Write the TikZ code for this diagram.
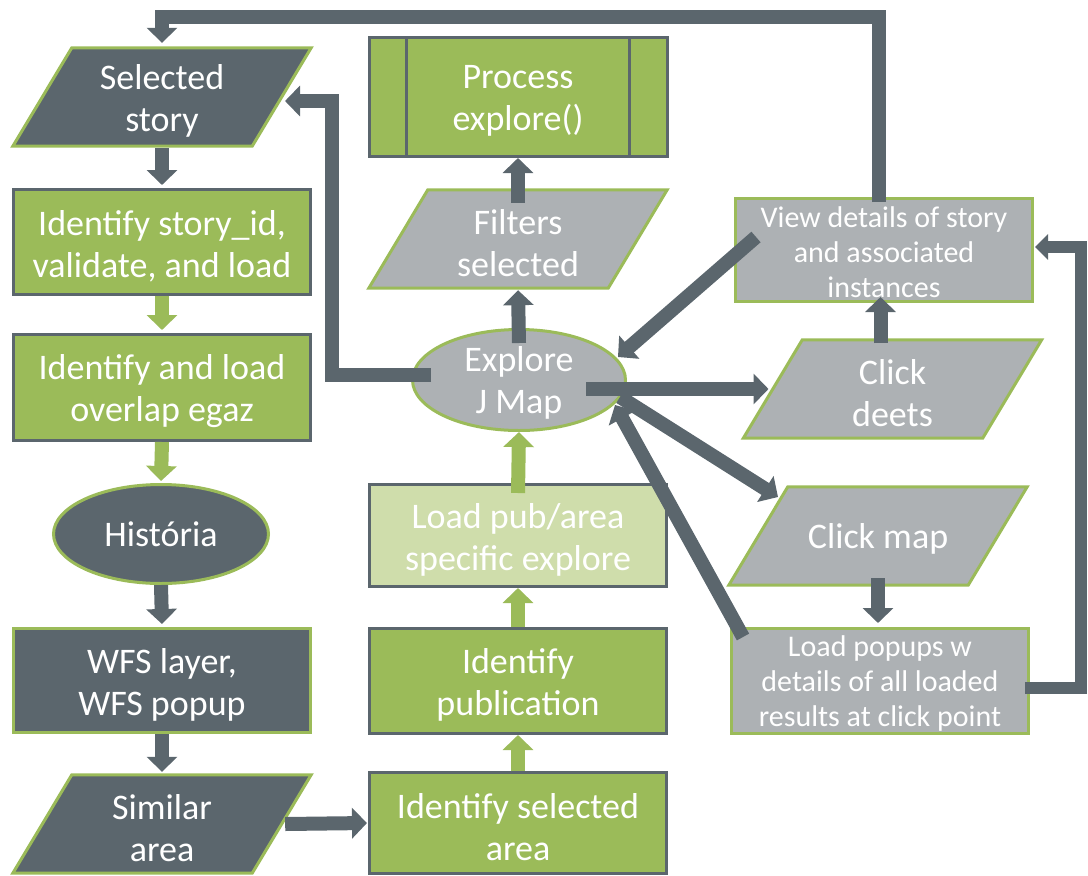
\documentclass[tikz,border=0pt]{standalone}
\usepackage{fontspec}
\setmainfont{Carlito}
\usetikzlibrary{arrows.meta,shapes.geometric,calc}
\pgfdeclarelayer{background}
\pgfsetlayers{background,main}

\definecolor{cslate}{HTML}{5B666D}
\definecolor{colive}{HTML}{9BBB59}
\definecolor{cmist}{HTML}{ADB1B4}
\definecolor{cpale}{HTML}{CFDDAB}

\tikzset{
  bigtext/.style={font=\fontsize{36pt}{42pt}\selectfont},
  smalltext/.style={font=\fontsize{30pt}{35pt}\selectfont},
  words/.style={align=center, text=white, inner sep=0pt},
  box/.style={rectangle, minimum width=297pt, minimum height=105pt, line width=3pt, inner sep=0pt},
  greenbox/.style={box, fill=colive, draw=cslate},
  darkbox/.style={box, fill=cslate, draw=colive},
  greybox/.style={box, fill=cmist, draw=colive},
  iobox/.style={rectangle, minimum width=302pt, minimum height=102pt, inner sep=0pt},
  oval/.style={ellipse, line width=3pt, draw=colive, inner sep=0pt},
  flow/.style={cslate, line width=14pt, -{Triangle[width=30pt,length=15pt]}},
  gflow/.style={flow, colive},
  thinflow/.style={cslate, line width=12pt, -{Triangle[width=25pt,length=13pt]}},
}

% slanted data shape drawn behind a node
\newcommand\ioshape[2]{%
  \begin{pgfonlayer}{background}
    \draw[line width=3pt, draw=colive, fill=#2]
      ([shift={(2pt,2pt)}]#1.south west) -- ([shift={(61pt,-2pt)}]#1.north west)
      -- ([shift={(-2pt,-2pt)}]#1.north east) -- ([shift={(-61pt,2pt)}]#1.south east) -- cycle;
  \end{pgfonlayer}}
% text of a shape: #1 shape name, #2 font style, #3 vertical offset, #4 lines
\newcommand\shapetext[4]{\node[words, #2] (#1-t) at ([yshift=#3]#1.center) {#4};}

\begin{document}
\begin{tikzpicture}[x=1pt,y=-1pt]
\useasboundingbox (0,0) rectangle (1088,876);

% left column
\node[iobox] (sel) at (162,97) {};
\ioshape{sel}{cslate}
\shapetext{sel}{bigtext}{-4pt}{Selected\\story}
\node[greenbox] (idst) at (162,242) {};
\shapetext{idst}{bigtext}{-4pt}{Identify story\_id,\\validate, and load}
\node[greenbox, minimum height=106pt] (idov) at (162,387.5) {};
\shapetext{idov}{bigtext}{-4pt}{Identify and load\\overlap egaz}
\node[oval, fill=cslate, minimum width=215pt, minimum height=99pt] (hist) at (161,534) {};
\shapetext{hist}{bigtext}{0pt}{História}
\node[darkbox, minimum height=104pt] (wfs) at (162,680.5) {};
\shapetext{wfs}{bigtext}{-4pt}{WFS layer,\\WFS popup}
\node[iobox] (sim) at (162,824) {};
\ioshape{sim}{cslate}
\shapetext{sim}{bigtext}{-4pt}{Similar\\area}

% middle column
\node[greenbox, minimum width=298pt, minimum height=119pt] (proc) at (518,97) {};
\draw[line width=3pt, cslate] ([xshift=39pt]proc.north west) -- ([xshift=39pt]proc.south west);
\draw[line width=3pt, cslate] ([xshift=-39pt]proc.north east) -- ([xshift=-39pt]proc.south east);
\shapetext{proc}{bigtext}{-4pt}{Process\\explore()}
\node[iobox] (filt) at (518,239) {};
\ioshape{filt}{cmist}
\shapetext{filt}{bigtext}{-4pt}{Filters\\selected}
\node[oval, fill=cmist, minimum width=213pt, minimum height=101pt] (expl) at (519,380) {};
\shapetext{expl}{bigtext}{-3pt}{Explore\\J Map}
\node[box, fill=cpale, draw=cslate, minimum height=102pt] (loadpub) at (518,535.5) {};
\shapetext{loadpub}{bigtext}{-4pt}{Load pub/area\\specific explore}
\node[greenbox] (idpub) at (518,681) {};
\shapetext{idpub}{bigtext}{-4pt}{Identify\\publication}
\node[greenbox, minimum height=101pt] (idarea) at (518,823) {};
\shapetext{idarea}{bigtext}{-4pt}{Identify selected\\area}

% right column
\node[greybox, minimum height=103pt] (view) at (884,250) {};
\shapetext{view}{smalltext}{-2pt}{View details of story\\and associated\\instances}
\node[iobox] (deets) at (892.5,389) {};
\ioshape{deets}{cmist}
\shapetext{deets}{bigtext}{-4pt}{Click\\deets}
\node[iobox] (cmap) at (878,536) {};
\ioshape{cmap}{cmist}
\shapetext{cmap}{bigtext}{-3pt}{Click map}
\node[greybox] (popups) at (880,681) {};
\shapetext{popups}{smalltext}{-2pt}{Load popups w\\details of all loaded\\results at click point}

% left column flow
\draw[flow] (sel.south) -- ([yshift=3pt]idst.north);
\draw[gflow] (idst.south) -- ([yshift=3pt]idov.north);
\draw[gflow] (idov.south) -- ([yshift=2pt]hist.north);
\draw[flow] (hist.south) -- ([yshift=3pt]wfs.north);
\draw[flow] (wfs.south) -- ([yshift=1pt]sim.north);
\draw[flow] ([xshift=-28pt]sim.east) -- ([xshift=-1pt]idarea.west);

% middle column flow
\draw[gflow] (idarea.north) -- (idpub.south);
\draw[gflow] (idpub.north) -- (loadpub.south);
\draw[gflow] ([yshift=-10pt]loadpub.north) -- (expl.south);
\draw[flow] ([yshift=-15pt]expl.north) -- (filt.south);
\draw[flow] ([yshift=-15pt]filt.north) -- (proc.south);

% out of the map
\draw[flow] ([shift={(67pt,-9pt)}]expl.center) -- ([xshift=-124pt]deets.center);
\draw[flow] ([shift={(101pt,-17pt)}]expl.center) -- ([shift={(-100pt,39pt)}]cmap.center);
\draw[flow] ([shift={(-128pt,13pt)}]view.center) -- ([shift={(99pt,23pt)}]expl.center);
\draw[flow] ([shift={(-137pt,44pt)}]popups.center) -- ([shift={(96pt,-25pt)}]expl.center);

% right column flow
\coordinate (dv) at ([shift={(-12pt,46pt)}]deets.center);
\draw[flow, shorten >=-6pt] (dv) -- (dv |- view.south);
\coordinate (mp) at ([yshift=-42pt]cmap.center);
\draw[flow, shorten >=4pt] (mp) -- (mp |- popups.north);

% loops back
\draw[flow] ([shift={(-5pt,-5pt)}]view.north) |- ($(sel.north)+(0,-29)$) -- ([yshift=3pt]sel.north);
\draw[flow] ([shift={(-88pt,5pt)}]expl.center) -| ([shift={(170pt,-4pt)}]sel.center)
  -- ([shift={(123pt,-4pt)}]sel.center);
\draw[thinflow] ([shift={(145pt,-7pt)}]popups.center) -| ([shift={(197pt,3pt)}]view.center)
  -- ([shift={(151pt,3pt)}]view.center);
\end{tikzpicture}
\end{document}
